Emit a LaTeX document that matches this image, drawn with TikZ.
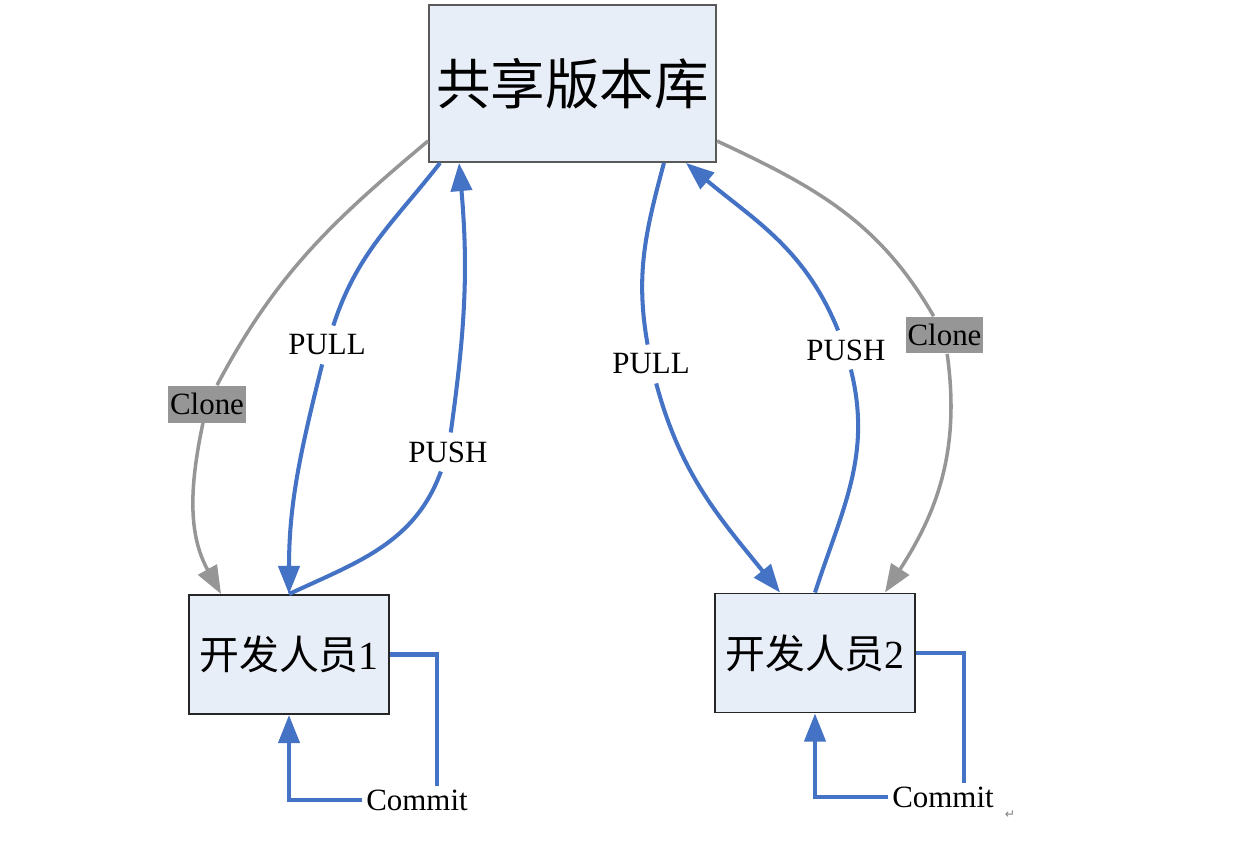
\documentclass[tikz,border=0pt]{standalone}
\usepackage{fontspec}
\setmainfont{Liberation Serif}
\newfontfamily\cjk{Noto Sans CJK SC}
\newfontfamily\symfont{DejaVu Sans}
\usetikzlibrary{arrows.meta,calc}

\definecolor{boxfill}{RGB}{232,238,248}
\definecolor{lineblue}{RGB}{68,114,196}
\definecolor{linegray}{RGB}{150,150,150}

\tikzset{
  repobox/.style={draw=black!65, line width=1.1pt, fill=boxfill,
    minimum width=5.74cm, minimum height=3.14cm, font=\fontsize{31}{36}\selectfont\cjk},
  devbox/.style={draw=black!85, line width=1.1pt, fill=boxfill,
    minimum width=4cm, minimum height=2.38cm, font=\fontsize{22.7}{26}\selectfont},
  bluearrow/.style={draw=lineblue, line width=2.3pt, -{Triangle[length=16pt,width=12pt]}},
  grayarrow/.style={draw=linegray, line width=2pt, -{Triangle[length=16pt,width=12pt]}},
  lab/.style={font=\fontsize{17.6}{20}\selectfont, inner sep=5pt},
  clonelab/.style={fill=linegray, font=\fontsize{17.6}{20}\selectfont,
    inner xsep=1pt, inner ysep=0pt, minimum height=0.74cm},
}

\begin{document}
\begin{tikzpicture}[x=0.02cm, y=0.02cm]
    \useasboundingbox (0,0) rectangle (1238,-845);

    % boxes
    \node[repobox] (repo) at (572.5,-83.5) {共享版本库};
    \node[devbox] (dev1) at (289,-654.5) {{\cjk 开发人员}1};
    \node[devbox] (dev2) at (815,-653) {{\cjk 开发人员}2};

    % labels
    \node[clonelab] (clone1) at (207,-404) {Clone};
    \node[clonelab] (clone2) at (944.5,-335) {Clone};
    \node[lab] (pull1) at (327,-345) {PULL};
    \node[lab] (push1) at (448,-452) {PUSH};
    \node[lab] (pull2) at (651,-364) {PULL};
    \node[lab] (push2) at (846,-350) {PUSH};
    \node[lab, inner sep=2pt] (commit1) at (417,-800) {Commit};
    \node[lab, inner sep=2pt] (commit2) at (943,-797) {Commit};

    % clone
    \draw[grayarrow] ($(repo.south west)+(0,22)$) to[out=220,in=62] (clone1)
        to[out=258,in=119] ($(dev1.north west)+(33,0)$);
    \draw[grayarrow] ($(repo.south east)+(0,22)$) to[out=335,in=120] (clone2)
        to[out=278,in=57] ($(dev2.north east)+(-31,0)$);

    % pull / push
    \draw[bluearrow] ($(repo.south west)+(12,0)$) to[out=232,in=72] (pull1)
        to[out=256,in=90] (dev1.north);
    \draw[bluearrow] (dev1.north) to[out=25,in=250] (push1)
        to[out=82,in=275] ($(repo.south west)+(31,0)$);
    \draw[bluearrow] ($(repo.south east)+(-53,0)$) to[out=255,in=100] (pull2)
        to[out=285,in=129] ($(dev2.north west)+(66,0)$);
    \draw[bluearrow] (dev2.north) to[out=72,in=284] (push2)
        to[out=112,in=320] ($(repo.south east)+(-31,0)$);

    % commit
    \draw[lineblue, line width=2.3pt] (dev1.east) -| ($(commit1.north)+(20,0)$);
    \draw[bluearrow] (commit1.west) -| (dev1.south);
    \draw[lineblue, line width=2.3pt] (dev2.east) -| ($(commit2.north)+(21,0)$);
    \draw[bluearrow] (commit2.west) -| (dev2.south);

    \node[font=\symfont\fontsize{7}{7}\selectfont, text=gray] (ret) at (1010,-815) {↵};
\end{tikzpicture}
\end{document}
